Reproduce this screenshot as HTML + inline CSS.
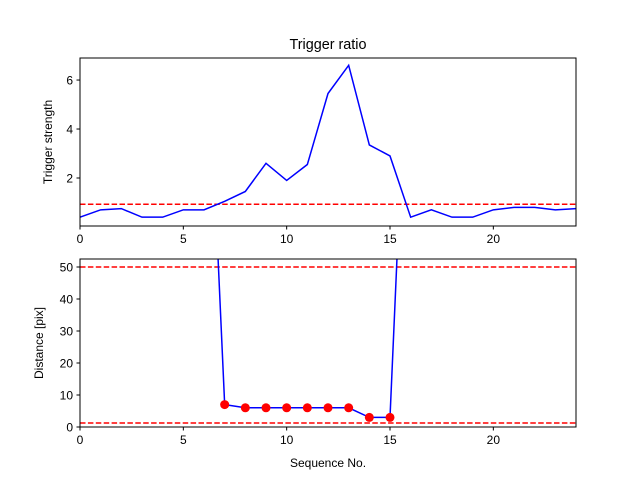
<!DOCTYPE html>
<html><head><meta charset="utf-8"><style>
body{margin:0;background:#fff}
svg text{font-family:"Liberation Sans","DejaVu Sans",sans-serif;fill:#000}
</style></head><body>
<svg id="chart" width="640" height="480">
<rect width="640" height="480" fill="#fff"/>
</svg>
<script>
const xs = [0,1,2,3,4,5,6,7,8,9,10,11,12,13,14,15,16,17,18,19,20,21,22,23,24];
const trigger = [0.4,0.7,0.75,0.4,0.4,0.7,0.7,1.05,1.45,2.6,1.9,2.55,5.45,6.6,3.35,2.9,0.4,0.7,0.4,0.4,0.7,0.8,0.8,0.7,0.75];
const triggerThreshold = [0.93];
const distX = [6,7,8,9,10,11,12,13,14,15,16];
const distance = [150,7,6,6,6,6,6,6,3,3,150];
const markerX = [7,8,9,10,11,12,13,14,15];
const markerY = [7,6,6,6,6,6,6,3,3];
const distLimits = [50,1.25];
const xTicks = [0,5,10,15,20];
const topYTicks = [2,4,6];
const botYTicks = [0,10,20,30,40,50];

const svg=document.getElementById('chart');
const NS='http://www.w3.org/2000/svg';
function mk(t,a,p){const e=document.createElementNS(NS,t);for(const k in a)e.setAttribute(k,a[k]);(p||svg).appendChild(e);return e;}
const L=80,R=576;
const sx=v=>L+(v-0)/(24-0)*(R-L);

function panel(top,bot,ymin,ymax,yt,name,ylabel){
  const sy=v=>bot-(v-ymin)/(ymax-ymin)*(bot-top);
  const g=mk('g',{});
  
  
  mk('rect',{x:L,y:top,width:R-L,height:bot-top,fill:'#fff'},g);
  const cid=name+'-clip';
  const cp=mk('clipPath',{id:cid},g);mk('rect',{x:L,y:top,width:R-L,height:bot-top},cp);
  const plot=mk('g',{'clip-path':'url(#'+cid+')'},g);
  xTicks.forEach(t=>{mk('line',{x1:sx(t),x2:sx(t),y1:bot,y2:bot+3.5,stroke:'#000'},g);
    const tx=mk('text',{x:sx(t),y:bot+17,'font-size':12,'text-anchor':'middle'},g);tx.textContent=t;
    });
  yt.forEach(t=>{mk('line',{x1:L-3.5,x2:L,y1:sy(t),y2:sy(t),stroke:'#000'},g);
    const tx=mk('text',{x:L-7,y:sy(t)+4.5,'font-size':12,'text-anchor':'end'},g);tx.textContent=t;
    });
  const yl=mk('text',{x:0,y:0,'font-size':12,'text-anchor':'middle',transform:`translate(${name==='top-panel'?52:43},${(top+bot)/2}) rotate(-90)`},g);
  yl.textContent=ylabel;
  return {sy,plot,g,top,bot};
}
// top panel x label drawn first (bottom panel overlaps it)
const xl1=mk('text',{x:328,y:267,'font-size':12,'text-anchor':'middle'});xl1.textContent='Sequence No.';

const tt=mk('text',{x:328,y:49,'font-size':14.4,'text-anchor':'middle'});tt.textContent='Trigger ratio';


const p1=panel(58,226,0.04,6.9,topYTicks,'top-panel','Trigger strength');
triggerThreshold.forEach(v=>{const l=mk('line',{x1:L,x2:R,y1:p1.sy(v),y2:p1.sy(v),stroke:'#f00','stroke-width':1.5,'stroke-dasharray':'5.5,2.4'},p1.plot);
  });
const pl1=mk('polyline',{points:xs.map((x,i)=>sx(x)+','+p1.sy(trigger[i])).join(' '),fill:'none',stroke:'#00f','stroke-width':1.5},p1.plot);

mk('rect',{x:L,y:58,width:R-L,height:168,fill:'none',stroke:'#000','stroke-width':1},p1.g);

const p2=panel(259,427,0,52.5,botYTicks,'bottom-panel','Distance [pix]');
distLimits.forEach(v=>{const l=mk('line',{x1:L,x2:R,y1:p2.sy(v),y2:p2.sy(v),stroke:'#f00','stroke-width':1.5,'stroke-dasharray':'5.5,2.4'},p2.plot);
  });
const pl2=mk('polyline',{points:distX.map((x,i)=>sx(x)+','+p2.sy(distance[i])).join(' '),fill:'none',stroke:'#00f','stroke-width':1.5},p2.plot);

markerX.forEach((x,i)=>{const c=mk('circle',{cx:sx(x),cy:p2.sy(markerY[i]),r:4.5,fill:'#f00'},p2.plot);
  });
mk('rect',{x:L,y:259,width:R-L,height:168,fill:'none',stroke:'#000','stroke-width':1},p2.g);
const xl2=mk('text',{x:328,y:467,'font-size':12,'text-anchor':'middle'});xl2.textContent='Sequence No.';

</script>
</body></html>
